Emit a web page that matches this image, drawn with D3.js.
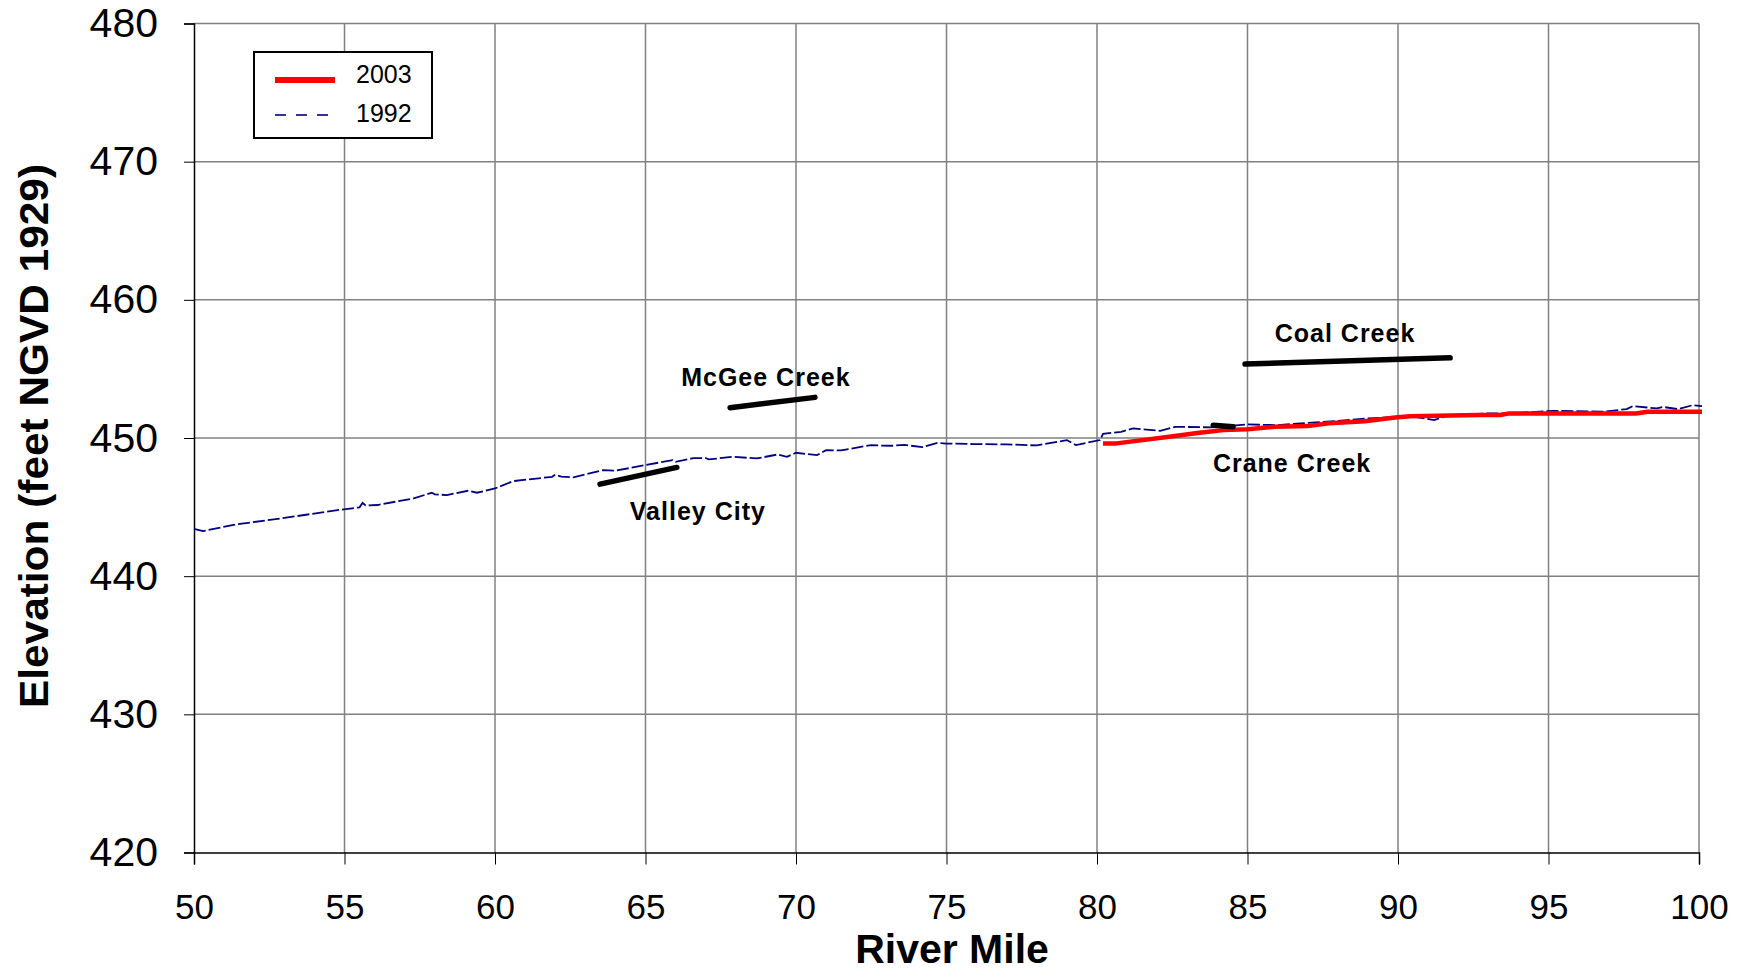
<!DOCTYPE html>
<html>
<head>
<meta charset="utf-8">
<script src="https://cdn.jsdelivr.net/npm/d3@7"></script>
<style>
  body { margin: 0; background: #fff; }
  svg { display: block; font-family: "Liberation Sans", Arial, sans-serif; }
</style>
</head>
<body>
<svg></svg>
<script>
// water surface profiles, river mile vs elevation
var miles1992 = [50.0, 50.3, 51.4, 52.9, 54.6, 55.5, 55.6, 55.7, 56.1, 57.3, 57.9, 58.0, 58.4, 59.1, 59.4, 60.0,
    60.6, 61.9, 62.0, 62.2, 62.6, 63.6, 64.0, 65.0, 65.9, 66.0, 66.6, 67.0, 67.1, 67.9, 68.7, 69.4, 69.7, 70.0,
    70.7, 71.0, 71.5, 72.5, 72.8, 73.2, 73.6, 74.2, 74.7, 75.0, 75.9, 77.0, 78.0, 79.0, 79.3, 80.1, 80.2, 80.8,
    81.2, 82.1, 82.6, 83.8, 85.0, 86.0, 87.0, 88.0, 89.0, 90.1, 90.4, 91.2, 91.7, 93.0, 93.6, 95.2, 96.8, 97.6,
    97.8, 98.6, 98.8, 99.3, 99.8, 100.1];
var elev1992 = [443.42, 443.26, 443.75, 444.18, 444.73, 444.98, 445.30, 445.12, 445.15, 445.63, 446.04, 445.92,
    445.87, 446.18, 446.04, 446.35, 446.88, 447.19, 447.35, 447.20, 447.15, 447.68, 447.63, 448.04, 448.40, 448.28,
    448.55, 448.55, 448.45, 448.64, 448.52, 448.81, 448.64, 448.93, 448.76, 449.12, 449.10, 449.49, 449.45, 449.44,
    449.50, 449.34, 449.65, 449.60, 449.56, 449.54, 449.46, 449.85, 449.49, 449.85, 450.30, 450.45, 450.69, 450.52,
    450.81, 450.77, 450.98, 450.93, 451.10, 451.24, 451.42, 451.53, 451.58, 451.30, 451.66, 451.78, 451.78, 451.97,
    451.90, 452.09, 452.31, 452.14, 452.25, 452.09, 452.38, 452.31];

var miles2003 = [80.2, 80.65, 82.4, 83.4, 84.2, 85.0, 85.9, 87.0, 87.7, 88.9, 89.9, 90.4, 92.7, 93.4, 93.7, 97.9, 98.3, 100.1];
var elev2003 = [449.61, 449.61, 450.09, 450.38, 450.57, 450.64, 450.81, 450.86, 451.06, 451.22, 451.49, 451.58,
    451.66, 451.66, 451.78, 451.78, 451.90, 451.90];

var xTicks = [50, 55, 60, 65, 70, 75, 80, 85, 90, 95, 100];
var yTicks = [420, 430, 440, 450, 460, 470, 480];

// tributary markers: name, marker start/end [mile, elev], label anchor [mile, elev]
var tribNames = ["McGee Creek", "Valley City", "Coal Creek", "Crane Creek"];
var tribLines = [[[67.81, 452.19], [70.63, 452.94]],
                 [[63.49, 446.66], [66.04, 447.87]],
                 [[84.92, 455.35], [91.73, 455.80]],
                 [[83.86, 450.93], [84.52, 450.81]]];
var tribLabels = [[69.0, 453.78], [66.74, 444.06], [88.24, 456.92], [86.48, 447.55]];

var seriesNames = ["2003", "1992"];

var width = 1743, height = 971;
var plotLeft = 194, plotRight = 1699, plotTop = 23.5, plotBottom = 852.5;

var canvas = d3.select("svg")
    .attr("width", width)
    .attr("height", height);

var x = d3.scaleLinear().domain([50, 100]).range([plotLeft, plotRight]);
var y = d3.scaleLinear().domain([420, 480]).range([plotBottom, plotTop]);

// grid
canvas.append("g").selectAll("line")
    .data(xTicks.slice(1))
    .enter().append("line")
    .attr("x1", function(d) { return x(d); })
    .attr("x2", function(d) { return x(d); })
    .attr("y1", plotTop)
    .attr("y2", plotBottom)
    .attr("stroke", "#808080")
    .attr("stroke-width", 1.5);

canvas.append("g").selectAll("line")
    .data(yTicks.slice(1))
    .enter().append("line")
    .attr("x1", plotLeft)
    .attr("x2", plotRight)
    .attr("y1", function(d) { return y(d); })
    .attr("y2", function(d) { return y(d); })
    .attr("stroke", "#808080")
    .attr("stroke-width", 1.5);

// axes
var xAxis = canvas.append("g")
    .attr("transform", "translate(0," + plotBottom + ")")
    .call(d3.axisBottom(x).tickValues(xTicks).tickSize(12).tickPadding(30).tickFormat(d3.format("d")));

var yAxis = canvas.append("g")
    .attr("transform", "translate(" + plotLeft + ",0)")
    .call(d3.axisLeft(y).tickValues(yTicks).tickSize(10).tickPadding(26).tickFormat(d3.format("d")));

xAxis.select(".domain").attr("stroke", "#000").attr("stroke-width", 1.5);
yAxis.select(".domain").attr("stroke", "#000").attr("stroke-width", 1.5);
xAxis.selectAll(".tick line").attr("stroke", "#000").attr("stroke-width", 1);
yAxis.selectAll(".tick line").attr("stroke", "#000").attr("stroke-width", 1);

xAxis.selectAll(".tick text")
    .attr("font-family", "'Liberation Sans', Arial, sans-serif")
    .attr("font-size", 35)
    .attr("fill", "#000");

yAxis.selectAll(".tick text")
    .attr("font-family", "'Liberation Sans', Arial, sans-serif")
    .attr("font-size", 41)
    .attr("fill", "#000");

// axis titles
canvas.append("text")
    .attr("x", 952)
    .attr("y", 963)
    .attr("text-anchor", "middle")
    .attr("font-size", 41)
    .attr("font-weight", "bold")
    .text("River Mile");

canvas.append("text")
    .attr("transform", "translate(48,436) rotate(-90)")
    .attr("text-anchor", "middle")
    .attr("font-size", 40)
    .attr("font-weight", "bold")
    .attr("textLength", 544)
    .attr("lengthAdjust", "spacingAndGlyphs")
    .text("Elevation (feet NGVD 1929)");

// series
var line = d3.line()
    .x(function(d) { return x(d[0]); })
    .y(function(d) { return y(d[1]); });

canvas.append("path")
    .datum(d3.zip(miles1992, elev1992))
    .attr("d", line)
    .attr("fill", "none")
    .attr("stroke", "#000080")
    .attr("stroke-width", 1.8)
    .attr("stroke-dasharray", "12,3");

canvas.append("path")
    .datum(d3.zip(miles2003, elev2003))
    .attr("d", line)
    .attr("fill", "none")
    .attr("stroke", "#ff0000")
    .attr("stroke-width", 4.5)
    .attr("stroke-linejoin", "round");

// tributaries
canvas.append("g").selectAll("path")
    .data(tribLines)
    .enter().append("path")
    .attr("d", line)
    .attr("fill", "none")
    .attr("stroke", "#000")
    .attr("stroke-width", 5.5)
    .attr("stroke-linecap", "round");

canvas.append("g").selectAll("text")
    .data(tribNames)
    .enter().append("text")
    .attr("x", function(d, i) { return x(tribLabels[i][0]); })
    .attr("y", function(d, i) { return y(tribLabels[i][1]); })
    .attr("text-anchor", "middle")
    .attr("font-size", 25)
    .attr("font-weight", "bold")
    .attr("letter-spacing", 1)
    .text(function(d) { return d; });

// legend
var legend = canvas.append("g");
legend.append("rect")
    .attr("x", 254)
    .attr("y", 52)
    .attr("width", 178)
    .attr("height", 86)
    .attr("fill", "#fff")
    .attr("stroke", "#000")
    .attr("stroke-width", 2);

legend.append("line")
    .attr("x1", 275).attr("x2", 335)
    .attr("y1", 80).attr("y2", 80)
    .attr("stroke", "#ff0000")
    .attr("stroke-width", 6);

legend.append("line")
    .attr("x1", 275).attr("x2", 335)
    .attr("y1", 115).attr("y2", 115)
    .attr("stroke", "#333399")
    .attr("stroke-width", 2)
    .attr("stroke-dasharray", "11,10");

legend.selectAll("text")
    .data(seriesNames)
    .enter().append("text")
    .attr("x", 356)
    .attr("y", function(d, i) { return 83 + i * 39; })
    .attr("font-size", 25)
    .text(function(d) { return d; });
</script>
</body>
</html>
